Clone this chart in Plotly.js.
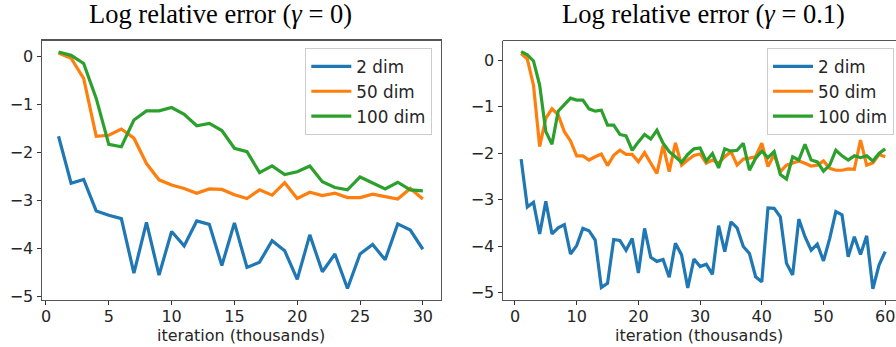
<!DOCTYPE html>
<html>
<head>
<meta charset="utf-8">
<script src="https://cdn.plot.ly/plotly-3.0.1.min.js"></script>
<style>
html,body{margin:0;padding:0;background:#fff;}
#chart{width:896px;height:347px;}
</style>
</head>
<body>
<div id="chart"></div>
<script>
// ---- data ----
const seriesNames = ["2 dim", "50 dim", "100 dim"];
const seriesColors = ["#1f77b4", "#ff7f0e", "#2ca02c"];

const titleLeft = "Log relative error (<i>γ</i> = 0)";
const titleRight = "Log relative error (<i>γ</i> = 0.1)";
const xLabel = "iteration (thousands)";

// left panel: gamma = 0, iterations 1..30 (thousands)
const iterLeft = [1,2,3,4,5,6,7,8,9,10,11,12,13,14,15,16,17,18,19,20,21,22,23,24,25,26,27,28,29,30];
const dim2Left = [-1.66,-2.64,-2.56,-3.22,-3.31,-3.38,-4.52,-3.46,-4.56,-3.65,-3.95,-3.43,-3.50,-4.36,-3.47,-4.40,-4.29,-3.84,-4.05,-4.65,-3.72,-4.49,-4.12,-4.84,-4.12,-3.92,-4.24,-3.49,-3.62,-4.02];
const dim50Left = [0.08,-0.03,-0.45,-1.66,-1.64,-1.51,-1.70,-2.23,-2.57,-2.68,-2.75,-2.85,-2.76,-2.77,-2.88,-2.96,-2.78,-2.89,-2.63,-2.96,-2.83,-2.90,-2.85,-2.94,-2.94,-2.87,-2.92,-2.97,-2.75,-2.97];
const dim100Left = [0.10,0.03,-0.14,-0.87,-1.83,-1.88,-1.32,-1.13,-1.13,-1.06,-1.20,-1.44,-1.39,-1.54,-1.91,-1.98,-2.42,-2.28,-2.46,-2.40,-2.28,-2.61,-2.73,-2.78,-2.51,-2.64,-2.76,-2.62,-2.78,-2.80];

// right panel: gamma = 0.1, iterations 1..60 (thousands)
const iterRight = [1,2,3,4,5,6,7,8,9,10,11,12,13,14,15,16,17,18,19,20,21,22,23,24,25,26,27,28,29,30,31,32,33,34,35,36,37,38,39,40,41,42,43,44,45,46,47,48,49,50,51,52,53,54,55,56,57,58,59,60];
const dim2Right = [-2.13,-3.16,-3.06,-3.74,-3.04,-3.74,-3.61,-3.54,-4.17,-3.99,-3.62,-3.67,-3.87,-4.89,-4.80,-3.86,-3.88,-4.09,-3.84,-4.58,-3.62,-4.24,-4.33,-4.29,-4.67,-3.94,-4.19,-4.90,-4.28,-4.44,-4.39,-4.61,-3.56,-4.12,-3.48,-3.61,-4.01,-4.16,-4.66,-4.77,-3.18,-3.19,-3.37,-4.37,-4.62,-3.42,-3.80,-4.09,-3.96,-4.32,-3.84,-3.26,-3.33,-4.23,-3.80,-4.18,-3.78,-4.92,-4.41,-4.12];
const dim50Right = [0.14,0.02,-0.54,-1.86,-1.25,-1.05,-1.18,-1.54,-1.74,-2.06,-2.06,-2.15,-2.08,-2.02,-2.27,-2.05,-1.94,-2.03,-2.03,-2.19,-1.99,-2.22,-2.44,-1.84,-2.40,-1.78,-2.26,-2.15,-2.05,-2.02,-2.22,-2.15,-2.22,-2.08,-1.97,-2.26,-2.13,-2.11,-2.08,-1.79,-2.29,-2.03,-2.40,-2.26,-2.22,-2.17,-2.22,-2.28,-2.26,-2.17,-2.33,-2.37,-2.37,-2.34,-2.35,-1.72,-2.26,-2.21,-2.03,-2.08];
const dim100Right = [0.18,0.11,-0.02,-0.54,-1.54,-1.81,-1.10,-0.97,-0.82,-0.86,-0.86,-1.05,-1.10,-1.08,-1.40,-1.40,-1.60,-1.63,-1.94,-1.76,-1.60,-1.70,-1.51,-1.79,-1.97,-2.08,-2.20,-2.03,-1.91,-1.89,-2.17,-2.01,-2.32,-1.91,-1.96,-1.94,-1.79,-2.37,-2.11,-1.96,-2.10,-1.97,-2.46,-2.56,-2.08,-2.15,-1.81,-2.15,-2.19,-2.39,-2.26,-1.94,-2.06,-2.15,-2.06,-2.10,-2.06,-2.17,-2.01,-1.91];

// ---- build ----
const leftSeries = [dim2Left, dim50Left, dim100Left];
const rightSeries = [dim2Right, dim50Right, dim100Right];
const traces = [];
leftSeries.forEach((ys, i) => {
  traces.push({x: iterLeft, y: ys, type: "scatter", mode: "lines", name: seriesNames[i],
    line: {color: seriesColors[i], width: 3.2}, xaxis: "x", yaxis: "y", legend: "legend",
    legendgroup: "L" + i});
});
rightSeries.forEach((ys, i) => {
  traces.push({x: iterRight, y: ys, type: "scatter", mode: "lines", name: seriesNames[i],
    line: {color: seriesColors[i], width: 3.2}, xaxis: "x2", yaxis: "y2", legend: "legend2",
    legendgroup: "R" + i});
});

const W = 896, H = 347;
const tickFont = {family: "DejaVu Sans", size: 16, color: "#262626"};
const frameColor = "#555555";
const plotTop = 40.5, plotBottom = 300;
const yDom = [1 - plotBottom / H, 1 - plotTop / H];

function xAxis(domain, range, dtick, anchor, mirror) {
  return {domain: domain, range: range, tick0: 0, dtick: dtick, anchor: anchor,
    ticks: "outside", ticklen: 4, tickwidth: 1, tickcolor: "#333",
    showline: true, linecolor: frameColor, linewidth: 1.2, mirror: mirror,
    showgrid: false, zeroline: false, tickfont: tickFont, fixedrange: true,
    ticklabelstandoff: -2};
}
function yAxis(range, anchor, mirror) {
  return {domain: yDom, range: range, tick0: 0, dtick: 1, anchor: anchor,
    ticks: "outside", ticklen: 4, tickwidth: 1, tickcolor: "#333",
    showline: true, linecolor: frameColor, linewidth: 1.2, mirror: mirror,
    showgrid: false, zeroline: false, tickfont: tickFont, fixedrange: true};
}

const legendStyle = {
  xanchor: "right", yanchor: "top", y: 1 - 48 / H,
  bgcolor: "rgba(255,255,255,0.8)", bordercolor: "#cccccc", borderwidth: 1,
  font: {family: "DejaVu Sans", size: 16.8, color: "#262626"},
  tracegroupgap: 0, itemwidth: 40
};

const titleFont = {family: "Liberation Serif", size: 26.5, color: "#000"};
const layout = {
  width: W, height: H,
  margin: {l: 0, r: 0, t: 0, b: 0},
  paper_bgcolor: "#fff", plot_bgcolor: "#fff",
  showlegend: true,
  xaxis: xAxis([41.7 / W, 440.7 / W], [-0.34, 31.42], 5, "y", true),
  yaxis: yAxis([-5.08, 0.34], "x", true),
  xaxis2: xAxis([502.7 / W, 1], [-1.99, 61.75], 10, "y2", false),
  yaxis2: yAxis([-5.16, 0.42], "x2", false),
  legend: Object.assign({}, legendStyle, {x: 432.3 / W}),
  legend2: Object.assign({}, legendStyle, {x: 894 / W}),
  shapes: [
    {type: "line", xref: "x2 domain", yref: "y2 domain", x0: 0, x1: 1, y0: 1, y1: 1,
     line: {color: frameColor, width: 1.2}}
  ],
  annotations: [
    {text: titleLeft, xref: "paper", yref: "paper", x: 87.3 / W, y: 1 - 14.5 / H,
     xanchor: "left", yanchor: "middle", showarrow: false, font: titleFont},
    {text: titleRight, xref: "paper", yref: "paper", x: 703 / W, y: 1 - 14.5 / H,
     xanchor: "center", yanchor: "middle", showarrow: false, font: titleFont},
    {text: xLabel, xref: "paper", yref: "paper", x: 241 / W, y: 1 - 335 / H,
     xanchor: "center", yanchor: "middle", showarrow: false, font: tickFont},
    {text: xLabel, xref: "paper", yref: "paper", x: 699 / W, y: 1 - 335 / H,
     xanchor: "center", yanchor: "middle", showarrow: false, font: tickFont}
  ]
};

Plotly.newPlot("chart", traces, layout, {displayModeBar: false, staticPlot: true});
</script>
</body>
</html>
